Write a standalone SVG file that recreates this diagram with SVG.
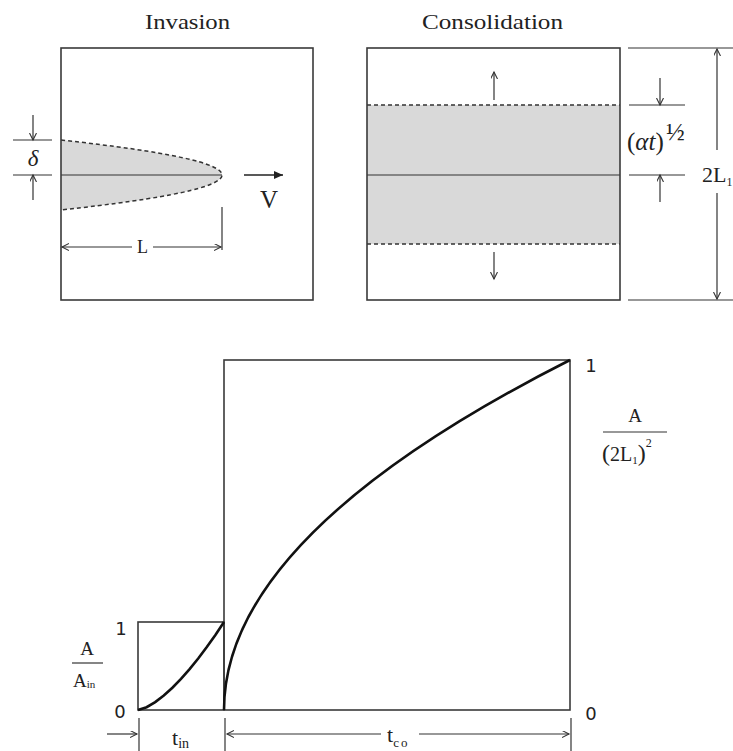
<svg xmlns="http://www.w3.org/2000/svg" width="733" height="751" viewBox="0 0 733 751">
<defs>
<style>
.box{fill:none;stroke:#3a3a3a;stroke-width:1.6}
.ln{fill:none;stroke:#333;stroke-width:1.2}
.dash{fill:none;stroke:#333;stroke-width:1.5;stroke-dasharray:4 3}
.curve{fill:none;stroke:#111;stroke-width:2.6}
.serif{font-family:"Liberation Serif","Times New Roman",serif;fill:#222}
.sans{font-family:"DejaVu Sans","Liberation Sans",sans-serif;fill:#222}
.dim{fill:none;stroke:#333;stroke-width:1.2;marker-end:url(#open)}
</style>
<marker id="open" markerUnits="userSpaceOnUse" markerWidth="10" markerHeight="10" refX="7" refY="3.5" orient="auto">
<path d="M0,0 L7,3.5 L0,7" fill="none" stroke="#333" stroke-width="1.1"/>
</marker>
<marker id="solid" markerUnits="userSpaceOnUse" markerWidth="12" markerHeight="12" refX="9" refY="4" orient="auto">
<path d="M0,0 L9,4 L0,8 z" fill="#222"/>
</marker>
</defs>
<rect width="733" height="751" fill="#fff"/>

<g id="invasion">
<text class="serif" x="187.5" y="29" font-size="22" text-anchor="middle" textLength="85" lengthAdjust="spacingAndGlyphs">Invasion</text>
<path d="M61,140 Q222,157.5 222,175 Q222,192.5 61,210 Z" fill="#d9d9d9" stroke="none"/>
<path class="dash" d="M61,140 Q222,157.5 222,175 Q222,192.5 61,210"/>
<line class="ln" x1="61" y1="175" x2="222" y2="175" stroke-width="1.5"/>
<rect class="box" x="61" y="48" width="252" height="252"/>
</g>

<g id="consolidation">
<text class="serif" x="492.5" y="29" font-size="22" text-anchor="middle" textLength="141" lengthAdjust="spacingAndGlyphs">Consolidation</text>
<rect x="367" y="105" width="253" height="139" fill="#d9d9d9"/>
<line class="dash" x1="367" y1="105" x2="620" y2="105"/>
<line class="dash" x1="367" y1="244" x2="620" y2="244"/>
<line class="ln" x1="367" y1="175" x2="620" y2="175" stroke-width="1.5"/>
<rect class="box" x="367" y="48" width="253" height="252"/>
</g>

<g id="chart">
<rect class="box" x="138" y="622" width="86" height="88"/>
<rect class="box" x="224" y="360" width="346" height="350"/>
<polyline class="curve" points="138,710 146.6,707.2 155.2,702.1 163.8,695.5 172.4,687.7 181,678.9 189.6,669.1 198.2,658.5 206.8,647 215.4,634.9 224,622"/>
<path class="curve" d="M224,710 Q224,535 570,360"/>
<text class="sans" x="121" y="635" font-size="18" text-anchor="middle">1</text>
<text class="sans" x="120" y="718" font-size="18" text-anchor="middle">0</text>
<text class="sans" x="591" y="372" font-size="18" text-anchor="middle">1</text>
<text class="sans" x="591" y="720" font-size="18" text-anchor="middle">0</text>
</g>

<g id="labels">
<text class="serif" x="33" y="166" font-size="23" font-style="italic" text-anchor="middle">δ</text>
<text class="serif" x="269" y="208" font-size="25" text-anchor="middle">V</text>
<text class="serif" x="142.5" y="253" font-size="18" text-anchor="middle">L</text>
<text class="serif" x="627" y="150" font-size="25">(<tspan font-style="italic">αt</tspan>)</text>
<text class="serif" x="666" y="140" font-size="25">½</text>
<text class="serif" x="702" y="182" font-size="22">2L<tspan font-size="12" dy="4">1</tspan></text>
<text class="serif" x="87" y="655" font-size="19" text-anchor="middle">A</text>
<line class="ln" x1="72" y1="663" x2="103" y2="663"/>
<text class="serif" x="73" y="687" font-size="19">A<tspan font-size="11" dy="1">in</tspan></text>
<text class="serif" x="635" y="422" font-size="19" text-anchor="middle">A</text>
<line class="ln" x1="603" y1="432" x2="667" y2="432"/>
<text class="serif" x="602" y="461" font-size="24">(<tspan font-size="20">2L</tspan><tspan font-size="11" dy="3">1</tspan><tspan dy="-3">)</tspan><tspan font-size="12" dy="-14">2</tspan></text>
<text class="serif" x="172" y="745" font-size="22">t<tspan font-size="14" dy="3">in</tspan></text>
<text class="serif" x="387" y="742" font-size="22">t<tspan font-size="13" dy="5" letter-spacing="2">co</tspan></text>
</g>

<g id="connectors">
<line class="ln" x1="13" y1="140" x2="52" y2="140"/>
<line class="ln" x1="13" y1="175" x2="52" y2="175"/>
<line class="dim" x1="33" y1="115" x2="33" y2="140"/>
<line class="dim" x1="33" y1="200" x2="33" y2="175"/>
<line class="ln" x1="222" y1="207" x2="222" y2="250"/>
<line class="dim" x1="132" y1="247" x2="62" y2="247"/>
<line class="dim" x1="153" y1="247" x2="221" y2="247"/>
<line x1="244" y1="175" x2="283" y2="175" stroke="#222" stroke-width="1.5" marker-end="url(#solid)"/>
<line class="dim" x1="494" y1="100" x2="494" y2="72"/>
<line class="dim" x1="494" y1="252" x2="494" y2="279"/>
<line class="ln" x1="629" y1="105" x2="685" y2="105"/>
<line class="ln" x1="629" y1="175" x2="685" y2="175"/>
<line class="dim" x1="660" y1="78" x2="660" y2="105"/>
<line class="dim" x1="660" y1="202" x2="660" y2="175"/>
<line class="ln" x1="628" y1="48" x2="733" y2="48"/>
<line class="ln" x1="628" y1="300" x2="733" y2="300"/>
<line class="dim" x1="717" y1="150" x2="717" y2="49"/>
<line class="dim" x1="717" y1="193" x2="717" y2="299"/>
<line class="ln" x1="139" y1="718" x2="139" y2="751"/>
<line class="ln" x1="225" y1="718" x2="225" y2="751"/>
<line class="ln" x1="571" y1="718" x2="571" y2="751"/>
<line class="dim" x1="107" y1="734" x2="137" y2="734"/>
<line class="dim" x1="381" y1="734" x2="227" y2="734"/>
<line class="dim" x1="419" y1="734" x2="569" y2="734"/>
</g>
</svg>
